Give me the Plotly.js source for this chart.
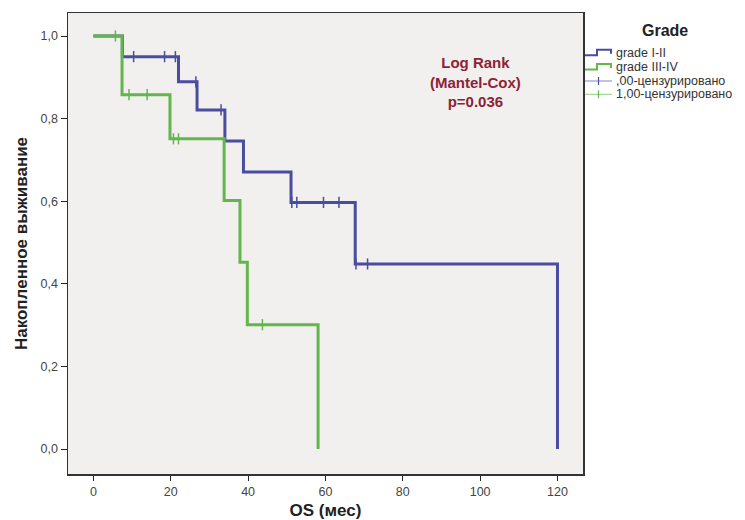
<!DOCTYPE html>
<html>
<head>
<meta charset="utf-8">
<script src="https://cdn.plot.ly/plotly-3.0.1.min.js"></script>
<style>body{margin:0;background:#fff;} #chart{width:745px;height:520px;}</style>
</head>
<body>
<div id="chart"></div>
<script>
// Kaplan-Meier step data (time in months, cumulative survival)
const blueTimes = [0, 7.5, 22.0, 26.8, 34.0, 38.8, 51.1, 67.7, 120];
const blueSurv  = [1.0, 0.95, 0.889, 0.821, 0.746, 0.671, 0.597, 0.448, 0.0];
const blueCensor = [10.4, 18.4, 21.2, 26.5, 33.0, 51.3, 52.6, 59.5, 63.5, 67.9, 70.9];

const greenTimes = [0, 7.4, 19.8, 33.8, 37.9, 39.8, 58.1];
const greenSurv  = [1.0, 0.858, 0.751, 0.602, 0.452, 0.301, 0.0];
const greenCensor = [5.7, 9.2, 13.9, 20.7, 22.0, 43.7];

const legendTitle = 'Grade';
const seriesNames = ['grade I-II', 'grade III-IV', ',00-цензурировано', '1,00-цензурировано'];
const statLines = ['Log Rank', '(Mantel-Cox)', 'p=0.036'];
const yTickVals = [0, 0.2, 0.4, 0.6, 0.8, 1.0];
const yTickText = ['0,0', '0,2', '0,4', '0,6', '0,8', '1,0'];
const xTickVals = [0, 20, 40, 60, 80, 100, 120];

const blueCol = '#4a4d9f';
const greenCol = '#62b64c';

const W = 745, H = 520;
const M = {l: 68, r: 162, t: 13, b: 46};
const pw = W - M.l - M.r, ph = H - M.t - M.b;
const px = v => (v - M.l) / pw;          // pixel x -> paper x
const py = v => (H - M.b - v) / ph;      // pixel y -> paper y

function survAt(times, surv, t) {
  let s = surv[0];
  for (let i = 0; i < times.length; i++) { if (times[i] <= t) s = surv[i]; }
  return s;
}
function censorXY(times, surv, cens) {
  return {x: cens.slice(), y: cens.map(t => survAt(times, surv, t))};
}
const bc = censorXY(blueTimes, blueSurv, blueCensor);
const gc = censorXY(greenTimes, greenSurv, greenCensor);

const traces = [
  {x: blueTimes, y: blueSurv, name: seriesNames[0], mode: 'lines', line: {shape: 'hv', color: blueCol, width: 3}},
  {x: greenTimes, y: greenSurv, name: seriesNames[1], mode: 'lines', line: {shape: 'hv', color: greenCol, width: 3}},
  {x: bc.x, y: bc.y, name: seriesNames[2], mode: 'markers',
   marker: {symbol: 'line-ns', size: 8, line: {color: blueCol, width: 1.5}}},
  {x: gc.x, y: gc.y, name: seriesNames[3], mode: 'markers',
   marker: {symbol: 'line-ns', size: 8, line: {color: greenCol, width: 1.5}}}
];

// custom legend (SPSS-style step icons)
function pathPx(pts) {
  return pts.map((p, i) => (i ? 'L' : 'M') + px(p[0]).toFixed(5) + ',' + py(p[1]).toFixed(5)).join(' ');
}
const legX0 = 585, legX1 = 612, legTextX = 614;
const legY = [52.7, 67, 81, 94.3];
const legCols = [blueCol, greenCol, '#7f82cf', '#8fd07a'];
const shapes = [];
const annotations = [];
legY.forEach((cy, i) => {
  if (i < 2) {
    shapes.push({type: 'path', xref: 'paper', yref: 'paper',
      path: pathPx([[legX0, cy + 2.5], [597, cy + 2.5], [597, cy - 3], [611, cy - 3], [611, cy + 1]]),
      line: {color: legCols[i], width: 2}});
  } else {
    shapes.push({type: 'path', xref: 'paper', yref: 'paper',
      path: pathPx([[legX0, cy], [legX1, cy]]), line: {color: legCols[i], width: 1}});
    shapes.push({type: 'path', xref: 'paper', yref: 'paper',
      path: pathPx([[598.5, cy - 4], [598.5, cy + 4]]), line: {color: i === 2 ? blueCol : greenCol, width: 1.2}});
  }
  annotations.push({xref: 'paper', yref: 'paper', x: px(legTextX), y: py(cy), xanchor: 'left', yanchor: 'middle',
    showarrow: false, text: seriesNames[i], font: {size: 12.5, color: '#333'}});
});
annotations.push({xref: 'paper', yref: 'paper', x: px(665), y: py(30), xanchor: 'center', yanchor: 'middle',
  showarrow: false, text: '<b>' + legendTitle + '</b>', font: {size: 16, color: '#222'}});

// stat text (single block, centred on the middle line)
annotations.push({x: 98.7, y: 0.889, xref: 'x', yref: 'y', showarrow: false, xanchor: 'center', yanchor: 'middle',
  align: 'center', text: '<b>' + statLines.join('<br>') + '</b>', font: {size: 15, color: '#8e2236'}});

const layout = {
  width: W, height: H,
  margin: M,
  paper_bgcolor: '#ffffff',
  plot_bgcolor: '#f1f0ee',
  font: {family: 'Liberation Sans, Arial, sans-serif', color: '#333'},
  showlegend: false,
  shapes: shapes,
  annotations: annotations,
  xaxis: {
    range: [-6.57, 126.6], tickvals: xTickVals, ticks: 'outside', ticklen: 5, tickcolor: '#222',
    showgrid: false, zeroline: false, showline: true, linecolor: '#333', linewidth: 1.5, mirror: true,
    tickfont: {size: 12.5, color: '#444'},
    title: {text: '<b>OS (мес)</b>', font: {size: 17, color: '#222'}, standoff: 13}
  },
  yaxis: {
    range: [-0.0605, 1.0557], tickvals: yTickVals, ticktext: yTickText, ticks: 'outside', ticklen: 6, tickcolor: '#222',
    showgrid: false, zeroline: false, showline: true, linecolor: '#333', linewidth: 1.5, mirror: true,
    tickfont: {size: 12.5, color: '#444'},
    title: {text: '<b>Накопленное выживание</b>', font: {size: 17, color: '#222'}, standoff: 8}
  }
};

Plotly.newPlot('chart', traces, layout, {displayModeBar: false, staticPlot: true});
</script>
</body>
</html>
